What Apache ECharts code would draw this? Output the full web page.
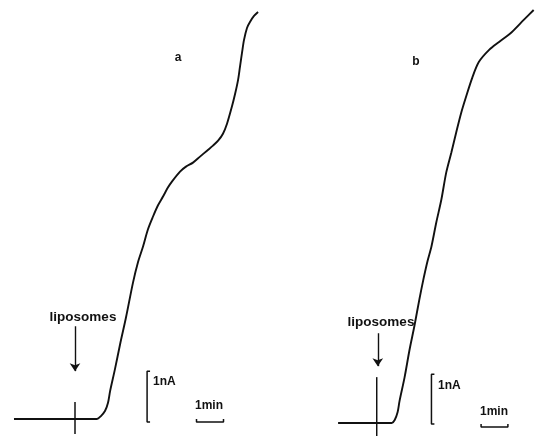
<!DOCTYPE html>
<html><head><meta charset="utf-8">
<script src="https://cdn.jsdelivr.net/npm/echarts@6/dist/echarts.min.js"></script>
<style>html,body{margin:0;padding:0;background:#fff}#c{width:535px;height:439px}</style>
</head><body><div id="c"></div>
<script>
// Trace a: [time (min, 0 = liposome addition), current (nA above baseline)]
const traceA = [[-2.26,0],[0.81,0],[0.96,0.06],[1.11,0.16],[1.22,0.32],[1.30,0.56],[1.48,1.00],[1.67,1.50],[1.89,2.04],[2.15,2.74],[2.33,3.14],[2.52,3.46],[2.70,3.80],[2.89,4.06],[3.07,4.28],[3.26,4.46],[3.44,4.64],[3.59,4.76],[3.89,4.96],[4.11,5.06],[4.37,5.14],[4.63,5.26],[4.89,5.38],[5.11,5.48],[5.30,5.58],[5.48,5.72],[5.63,5.92],[5.81,6.26],[5.93,6.52],[6.04,6.80],[6.11,7.06],[6.19,7.36],[6.26,7.60],[6.37,7.84],[6.48,7.96],[6.63,8.08],[6.78,8.16]];
// Trace b
const traceB = [[-1.44,0],[0.56,0],[0.67,0.06],[0.78,0.22],[0.85,0.44],[1.04,0.92],[1.22,1.46],[1.41,1.96],[1.59,2.48],[1.74,2.88],[1.89,3.24],[2.04,3.54],[2.22,4.02],[2.41,4.48],[2.59,5.02],[2.78,5.42],[2.96,5.82],[3.15,6.22],[3.33,6.54],[3.56,6.92],[3.81,7.24],[4.19,7.48],[4.56,7.64],[5.04,7.84],[5.48,8.08],[5.85,8.28]];
// Addition markers (vertical tick at t=0) and arrows
const tickA = [[0,0.34],[0,-0.30]];
const tickB = [[0,0.92],[0,-0.26]];
const arrowA = [[0,1.86],[0,0.96]];
const arrowB = [[0.04,1.80],[0.04,1.14]];
// Scale bars: 1 nA and 1 min
const nABarA = [[2.78,0.96],[2.67,0.96],[2.67,-0.06],[2.78,-0.06]];
const minBarA = [[4.50,0.00],[4.50,-0.06],[5.50,-0.06],[5.50,0.00]];
const nABarB = [[2.15,0.98],[2.04,0.98],[2.04,-0.02],[2.15,-0.02]];
const minBarB = [[3.89,-0.02],[3.89,-0.08],[4.89,-0.08],[4.89,-0.02]];
// Labels
const panelLabels = ['a','b'];
const addLabel = 'liposomes';
const currentLabel = '1nA';
const timeLabel = '1min';

const chart = echarts.init(document.getElementById('c'));
function ln(data, gi, w, smooth){
  return {type:'line', xAxisIndex:gi, yAxisIndex:gi, data:data, showSymbol:false, symbol:'none',
    smooth: smooth || false,
    lineStyle:{color:'#111', width:w||1.8}, silent:true, animation:false, z:3};
}
function arrow(data, gi){
  return {type:'lines', coordinateSystem:'cartesian2d', xAxisIndex:gi, yAxisIndex:gi,
    symbol:['none','arrow'], symbolSize:[6,8], silent:true, animation:false,
    lineStyle:{color:'#111', width:1.4, opacity:1}, data:[{coords:data}]};
}
const axHide = {show:false, axisLine:{show:false}, axisTick:{show:false}, axisLabel:{show:false}, splitLine:{show:false}};
const font = '"Liberation Sans", Arial, sans-serif';
function txt(x,y,s,size,align){
  return {type:'text', x:x, y:y, style:{text:s, fill:'#111', font:'bold '+size+'px '+font,
    textAlign:align||'center', textVerticalAlign:'middle'}, z:10};
}
chart.setOption({
  animation:false,
  backgroundColor:'#fff',
  grid:[
    {left:7.5, top:0, width:256.5, height:440, containLabel:false},
    {left:333.8, top:0, width:202.5, height:440, containLabel:false}
  ],
  xAxis:[
    Object.assign({type:'value', gridIndex:0, min:-2.5, max:7.0}, axHide),
    Object.assign({type:'value', gridIndex:1, min:-1.6, max:5.9}, axHide)
  ],
  yAxis:[
    Object.assign({type:'value', gridIndex:0, min:-0.4, max:8.4}, axHide),
    Object.assign({type:'value', gridIndex:1, min:-0.32, max:8.48}, axHide)
  ],
  series:[
    ln(traceA,0,1.9,0.3), ln(traceB,1,1.9,0.3),
    ln(tickA,0,1.5), ln(tickB,1,1.5),
    arrow(arrowA,0), arrow(arrowB,1),
    ln(nABarA,0,1.5), ln(minBarA,0,1.5),
    ln(nABarB,1,1.5), ln(minBarB,1,1.5)
  ],
  graphic:[
    txt(178,58,panelLabels[0],12), txt(416,62,panelLabels[1],12),
    txt(83,317,addLabel,13.5), txt(381,322,addLabel,13.5),
    txt(153,382,currentLabel,12,'left'), txt(438,386,currentLabel,12,'left'),
    txt(195,406,timeLabel,12,'left'), txt(480,412,timeLabel,12,'left')
  ]
});
</script></body></html>
